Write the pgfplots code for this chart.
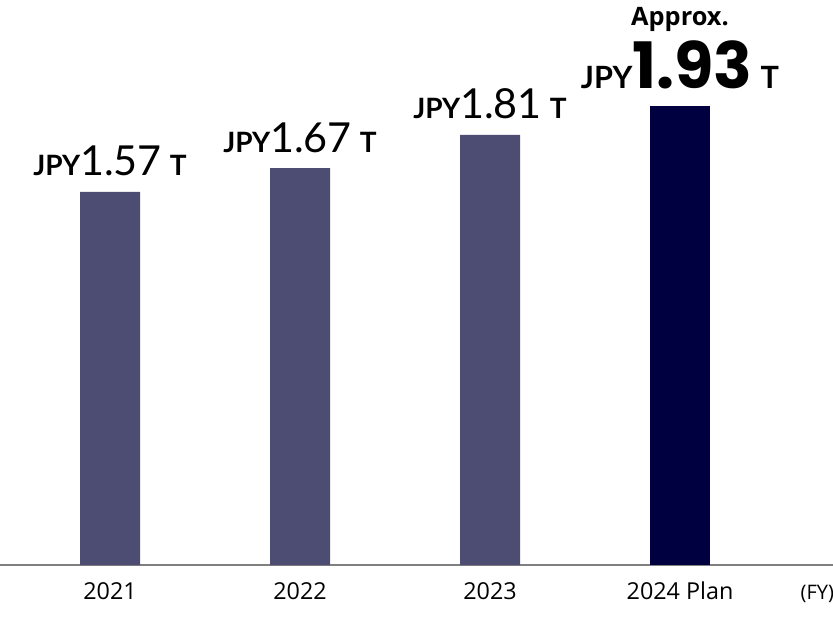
\documentclass[border=0pt]{standalone}
\usepackage{pgfplots}
\pgfplotsset{compat=1.18}
\usepackage{fontspec}
\setmainfont{Open Sans}
\newfontfamily\lato{Lato}
\newfontfamily\poppins{Poppins}
\definecolor{barpast}{HTML}{4D4D73}
\definecolor{barplan}{HTML}{000040}
\definecolor{axisgray}{HTML}{808080}
\newcommand{\jpy}[1]{{\lato\bfseries\fontsize{21}{21}\selectfont JPY}{\lato\fontsize{31}{31}\selectfont #1}\hspace{6pt}{\lato\bfseries\fontsize{21}{21}\selectfont T}}
\newcommand{\jpyplan}[1]{{\lato\bfseries\fontsize{23}{23}\selectfont JPY}{\poppins\bfseries\fontsize{48}{48}\selectfont #1}\hspace{6pt}{\lato\bfseries\fontsize{23}{23}\selectfont T}}
\begin{document}
\begin{tikzpicture}
\begin{axis}[
  at={(0pt,42.75pt)}, anchor=south west,
  scale only axis,
  width=624.75pt, height=423.75pt,
  xmin=-0.57895, xmax=3.80526,
  ymin=0, ymax=2.3769,
  axis x line=bottom, axis y line=none,
  x axis line style={-, draw=axisgray, line width=1.5pt},
  ytick=\empty,
  xtick={0,1,2,3},
  xticklabels={2021,2022,2023,2024 Plan},
  major tick length=0pt,
  xticklabel style={font=\fontsize{17.5}{17.5}\selectfont, anchor=base, yshift=-26pt},
  ybar, bar width=45pt, bar shift=0pt,
  clip=false,
  point meta=explicit symbolic,
]
\addplot[fill=barpast, draw=none, nodes near coords={\jpy{\pgfplotspointmeta}},
  nodes near coords style={anchor=base, yshift=12pt, inner sep=0pt}]
  coordinates {(0,1.57)[1.57] (1,1.67)[1.67] (2,1.81)[1.81]};
\addplot[fill=barplan, draw=none, nodes near coords={\jpyplan{\pgfplotspointmeta}},
  nodes near coords style={anchor=base, yshift=13.5pt, inner sep=0pt}]
  coordinates {(3,1.93)[1.93]};
\node[anchor=base, inner sep=0pt, yshift=60.75pt, font=\bfseries\fontsize{19}{19}\selectfont]
  at (axis cs:3,1.93) {Approx.};
\node[anchor=base east, inner sep=0pt, xshift=1pt, yshift=-26pt, font=\fontsize{15}{15}\selectfont]
  at (rel axis cs:1,0) {(FY)};
\end{axis}
\pgfresetboundingbox
\path (0,0) rectangle (624.75pt,466.5pt);
\end{tikzpicture}
\end{document}
